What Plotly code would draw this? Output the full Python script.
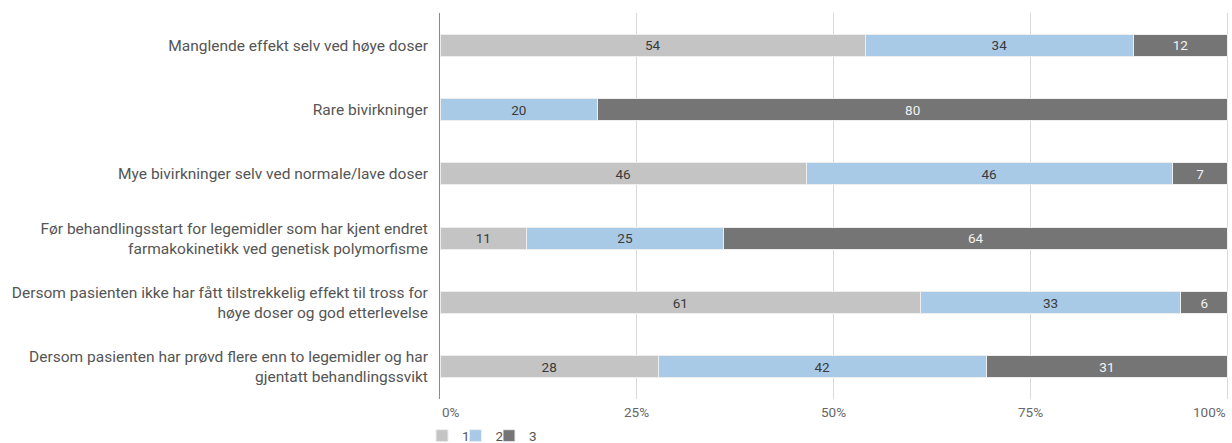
import plotly.graph_objects as go

categories = [
    "Manglende effekt selv ved høye doser",
    "Rare bivirkninger",
    "Mye bivirkninger selv ved normale/lave doser",
    "Før behandlingsstart for legemidler som har kjent endret<br>farmakokinetikk ved genetisk polymorfisme",
    "Dersom pasienten ikke har fått tilstrekkelig effekt til tross for<br>høye doser og god etterlevelse",
    "Dersom pasienten har prøvd flere enn to legemidler og har<br>gjentatt behandlingssvikt",
]
series_names = ["1", "2", "3"]
values_1 = [54, 0, 46, 11, 61, 28]
values_2 = [34, 20, 46, 25, 33, 42]
values_3 = [12, 80, 7, 64, 6, 31]
tick_vals = [0, 25, 50, 75, 100]
tick_text = ["0%", "25%", "50%", "75%", "100%"]

colors = ["#c4c4c4", "#a9cae6", "#757575"]
text_colors = ["#3a3a3a", "#3a3a3a", "#f2f2f2"]
legend_ids = ["legend", "legend2", "legend3"]

fig = go.Figure()
for name, vals, c, tc, lg in zip(series_names, [values_1, values_2, values_3], colors, text_colors, legend_ids):
    fig.add_trace(go.Bar(
        y=categories, x=vals, name=name, orientation="h", legend=lg,
        marker=dict(color=c, line=dict(color="#eeeeee", width=1)),
        text=[str(v) if v else "" for v in vals],
        textposition="inside", insidetextanchor="middle", textangle=0,
        textfont=dict(color=tc, size=13.5, family="Roboto"),
        constraintext="none",
    ))

# x tick labels placed on the axis scale (last one right-aligned like the original)
for i, (tv, tt) in enumerate(zip(tick_vals, tick_text)):
    anchor = "left" if i == 0 else ("right" if i == len(tick_vals) - 1 else "center")
    fig.add_annotation(x=tv, xref="x", y=0, yref="paper", yanchor="top", yshift=-3,
                       xanchor=anchor, text=tt, showarrow=False,
                       font=dict(family="Roboto", size=13.5, color="#666666"))

legend_common = dict(orientation="h", xanchor="left", yref="container", y=0.016, yanchor="middle",
                     font=dict(size=13.5, color="#555555"), bgcolor="rgba(0,0,0,0)",
                     itemwidth=30)
layout_legends = {}
for i, lg in enumerate(legend_ids):
    layout_legends[lg] = dict(legend_common, x=(422 + 33.5 * i - 440) / 789)

fig.update_layout(
    barmode="stack", barnorm="percent", bargap=0.66,
    width=1232, height=443,
    margin=dict(l=440, r=3, t=13, b=44),
    paper_bgcolor="white", plot_bgcolor="white",
    font=dict(family="Roboto", size=14, color="#555555"),
    showlegend=True,
    **layout_legends,
)
fig.update_xaxes(range=[0, 100.15], tickvals=tick_vals, showticklabels=False,
                 showgrid=True, gridcolor="#d9d9d9", gridwidth=1,
                 zeroline=False, showline=False, ticks="")
fig.update_yaxes(autorange="reversed", showline=True, linecolor="#8a8a8a", linewidth=1,
                 automargin=False,
                 ticks="", ticklabelstandoff=8, tickfont=dict(size=15.5, color="#555555"))

fig.write_html("out.html", config={"displayModeBar": False},
               post_script="document.body.style.margin='0';")
